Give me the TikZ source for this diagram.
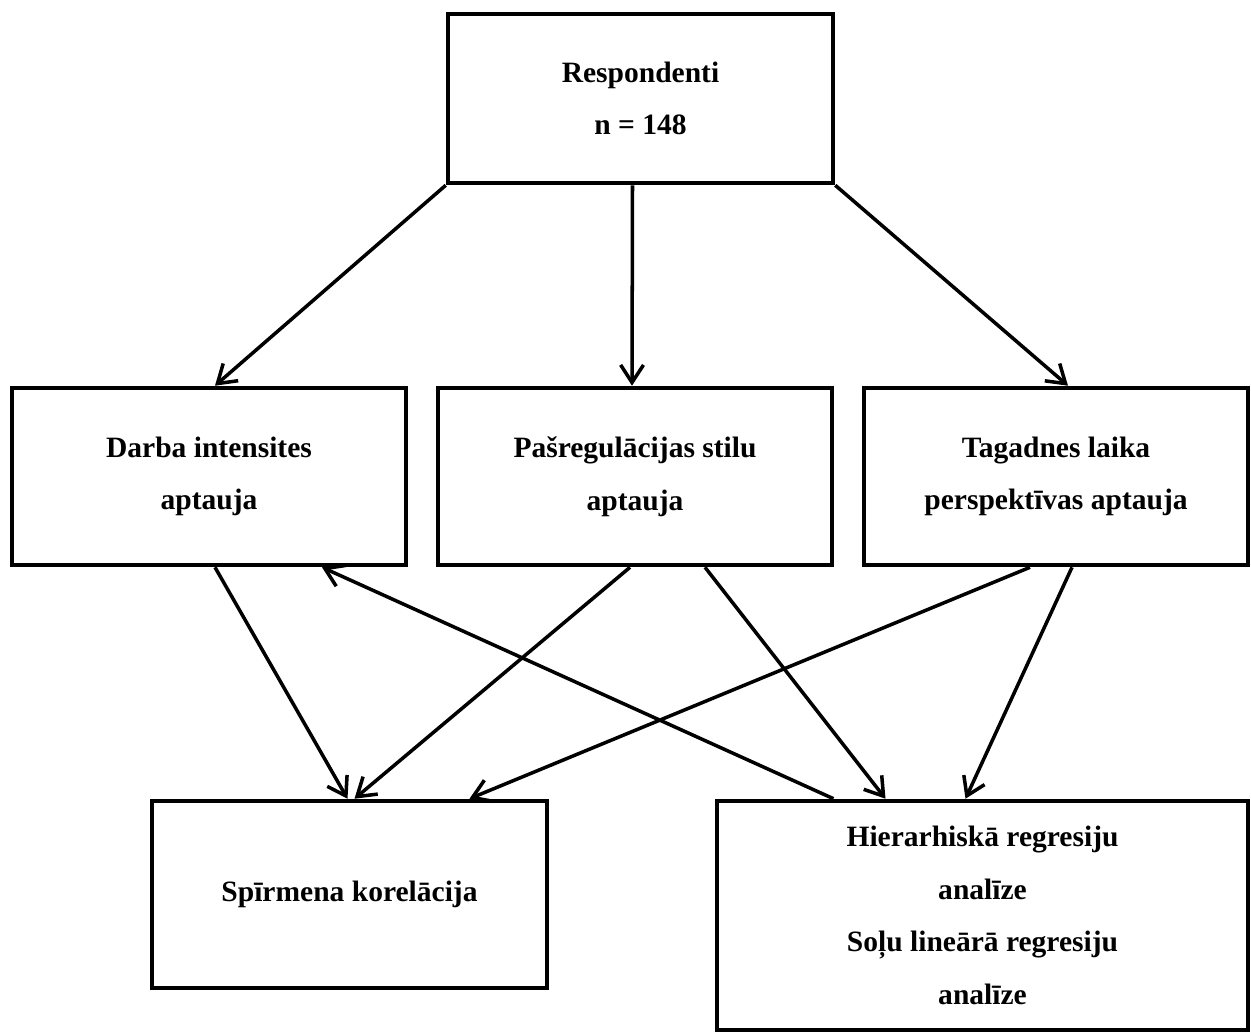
\documentclass[tikz,border=0pt]{standalone}
\usepackage{fontspec}
\setmainfont{Liberation Serif}
\usetikzlibrary{arrows.meta,calc}

\tikzset{every path/.style={line width=2pt}}

\begin{document}
\begin{tikzpicture}[x=0.02cm,y=-0.02cm,
    box/.style={draw,line width=2.6pt,inner sep=0pt,align=center,
      font=\fontsize{16.8}{30}\selectfont\bfseries},
    link/.style={-{Straight Barb[length=10pt,width=13pt,line width=2pt]}}]
    \useasboundingbox (0,0) rectangle (1251,1034);
    \node[box,minimum width=385*0.02cm,minimum height=169*0.02cm] (resp) at (640.5,98.5) {Respondenti\\n = 148};
    \node[box,minimum width=394*0.02cm,minimum height=177*0.02cm] (darba) at (209,476.5) {Darba intensites\\aptauja};
    \node[box,minimum width=394*0.02cm,minimum height=177*0.02cm] (pas) at (635,476.5) {Pašregulācijas stilu\\aptauja};
    \node[box,minimum width=384*0.02cm,minimum height=177*0.02cm] (tag) at (1056,476.5) {Tagadnes laika\\perspektīvas aptauja};
    \node[box,minimum width=395*0.02cm,minimum height=187*0.02cm] (spir) at (349.5,894.5) {Spīrmena korelācija};
    \node[box,minimum width=531*0.02cm,minimum height=229*0.02cm] (hier) at (982.5,915.5) {Hierarhiskā regresiju\\analīze\\Soļu lineārā regresiju\\analīze};
    \path[link] (resp.south west) edge ($(darba.north)+(6,0)$);
    \path[link] ($(resp.south)+(-8,0)$) edge ($(pas.north)+(-3,0)$);
    \path[link] (resp.south east) edge ($(tag.north)+(12,0)$);
    \path[link] ($(darba.south)+(6,0)$) edge ($(spir.north)+(-2,0)$);
    \path[link] ($(pas.south)+(-5,0)$) edge ($(spir.north)+(5,0)$);
    \path[link] ($(pas.south)+(70,0)$) edge ($(hier.north)+(-97,0)$);
    \path[link] ($(tag.south)+(-26,0)$) edge ($(spir.north)+(120,0)$);
    \path[link] ($(tag.south)+(16,0)$) edge ($(hier.north)+(-17,0)$);
    \path[link] ($(hier.north)+(-149,0)$) edge ($(darba.south)+(113,0)$);
  \end{tikzpicture}
\end{document}
